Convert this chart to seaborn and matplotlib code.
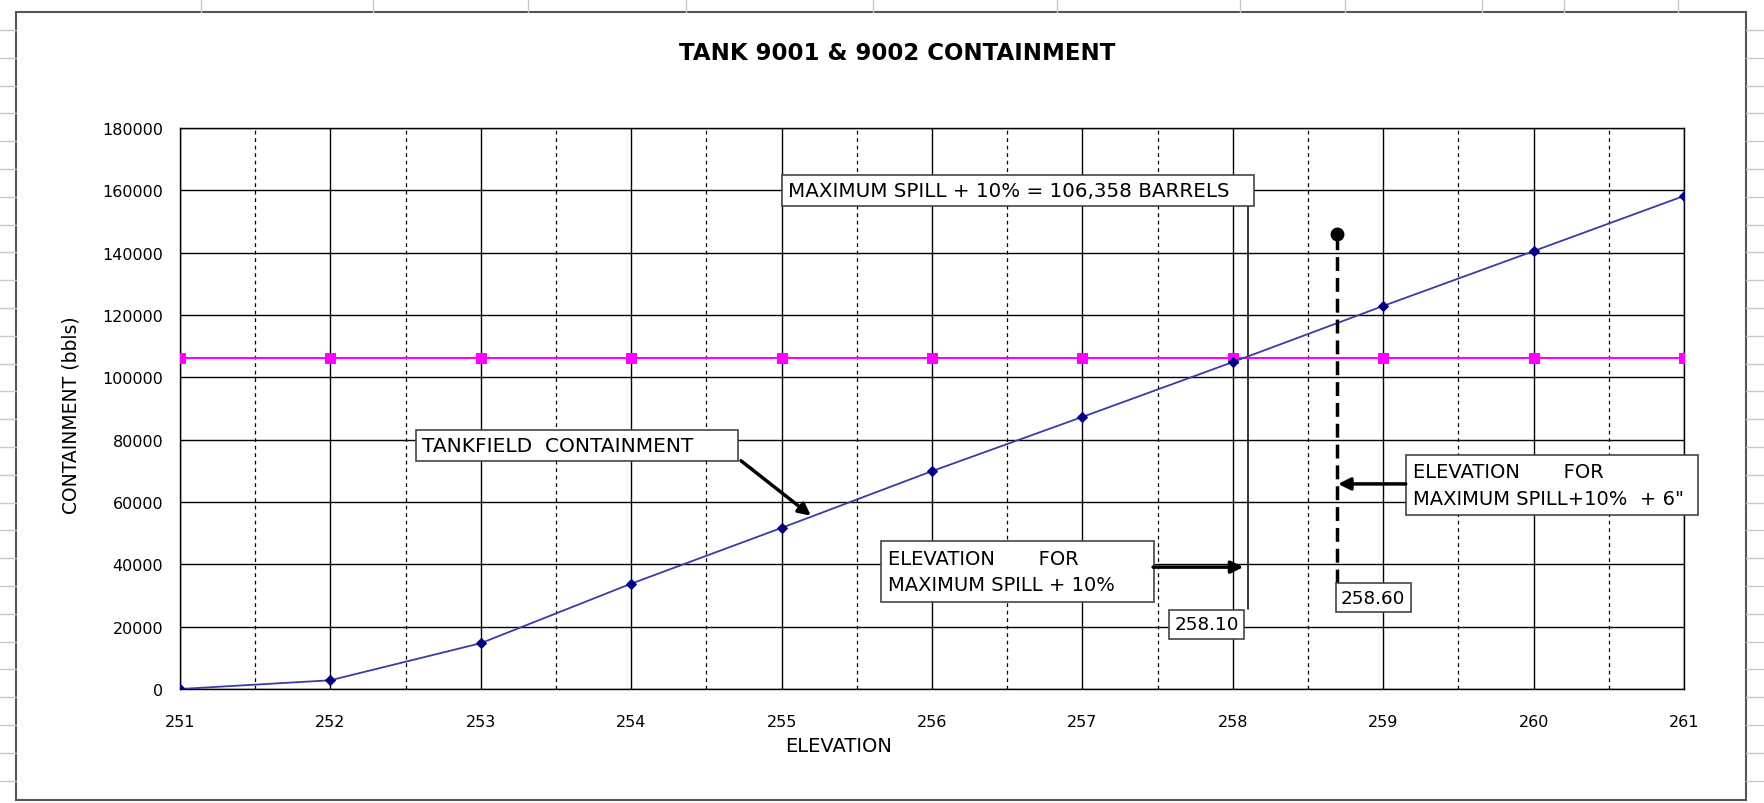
import numpy as np
import pandas as pd
import seaborn as sns
import matplotlib.pyplot as plt
from matplotlib.lines import Line2D
from matplotlib.patches import Rectangle

# values
elevation = [251, 252, 253, 254, 255, 256, 257, 258, 259, 260, 261]
containment = [0, 2800, 14700, 33800, 51700, 69900, 87300, 104900, 122900, 140500, 158200]
max_spill = 106358
spill_elev = 258.10
spill_elev_6in = 258.69      # where the dashed marker line is drawn
spill_6in_top = 146000
y_ticks = list(range(0, 180001, 20000))

sns.set_style('white')
plt.rcParams['font.family'] = ['DejaVu Sans']
plt.rcParams.update({'text.color': 'black', 'axes.labelcolor': 'black',
                     'xtick.color': 'black', 'ytick.color': 'black'})

df = pd.DataFrame({'ELEVATION': elevation, 'CONTAINMENT': containment,
                   'SPILL': [max_spill] * len(elevation)})

fig = plt.figure(figsize=(17.64, 8.04), dpi=100)
ax = fig.add_axes([180 / 1764, 1 - 690 / 804, 1504 / 1764, 561 / 804])

# spreadsheet cell lines behind the embedded chart
for y in np.arange(31, 804, 27.8):
    fig.add_artist(Line2D([0, 16 / 1764], [1 - y / 804] * 2, color='#c8c8c8', lw=1))
    fig.add_artist(Line2D([1746 / 1764, 1], [1 - y / 804] * 2, color='#c8c8c8', lw=1))
for x in [201, 373, 528, 686, 873, 1057, 1240, 1345, 1482, 1564, 1678]:
    fig.add_artist(Line2D([x / 1764] * 2, [1 - 13 / 804, 1], color='#c8c8c8', lw=1))
fig.add_artist(Rectangle((16 / 1764, 1 - 801 / 804), 1730 / 1764, 788 / 804,
                         fill=False, edgecolor='#555555', lw=1.5))

sns.lineplot(data=df, x='ELEVATION', y='SPILL', ax=ax, color='#ff00ff', lw=1.5,
             marker='s', markersize=6.5, markeredgecolor='#ff00ff', zorder=3)
sns.lineplot(data=df, x='ELEVATION', y='CONTAINMENT', ax=ax, color='#3a3aa8', lw=1.3,
             marker='D', markersize=5.5, markerfacecolor='#000080',
             markeredgecolor='#000080', zorder=4)

ax.set_xlim(251, 261)
ax.set_ylim(0, 180000)
ax.set_xticks(elevation)
ax.set_xticks(np.arange(251.5, 261, 1), minor=True)
ax.set_yticks(y_ticks)
ax.set_axisbelow(True)
ax.grid(which='major', color='black', lw=1)
ax.grid(which='minor', axis='x', color='black', lw=0.9, linestyle=(0, (3, 3)))
for s in ax.spines.values():
    s.set_color('black')
    s.set_linewidth(1)
ax.tick_params(which='major', direction='out', length=5, color='black', labelsize=11.5)
ax.tick_params(axis='x', which='major', pad=13)
ax.tick_params(axis='y', which='major', pad=7)
ax.tick_params(which='minor', length=0)

ax.set_xlabel('ELEVATION', fontsize=14)
ax.set_ylabel('CONTAINMENT (bbls)', fontsize=13.5)
ax.xaxis.set_label_coords(0.438, -0.084)
ax.yaxis.set_label_coords(-0.066, 0.49)

fig.text(0.5085, 0.933, 'TANK 9001 & 9002 CONTAINMENT', ha='center', va='center',
         fontsize=16.5, fontweight='bold')

# elevation marker lines
ax.plot([spill_elev, spill_elev], [25700, 156000], color='black', lw=1.1, zorder=2)
ax.plot([spill_elev_6in, spill_elev_6in], [34000, spill_6in_top], color='black', lw=2.5,
        linestyle=(0, (4, 2)), zorder=4)
ax.plot([spill_elev_6in], [spill_6in_top], 'o', color='black', markersize=9, zorder=5)

box = dict(boxstyle='square,pad=0.3', facecolor='white', edgecolor='#444444', lw=1.2)
box2 = dict(boxstyle='square,pad=0.38', facecolor='white', edgecolor='#444444', lw=1.2)
ax.text(255.04, 159900, 'MAXIMUM SPILL + 10% = 106,358 BARRELS   ', fontsize=14.3,
        ha='left', va='center', bbox=box, zorder=6)
ax.text(252.61, 78100, 'TANKFIELD  CONTAINMENT      ', fontsize=14.5,
        ha='left', va='center', bbox=box, zorder=6)
ax.text(255.71, 37700, 'ELEVATION       FOR\nMAXIMUM SPILL + 10%     ', fontsize=14,
        ha='left', va='center', linespacing=1.5, bbox=box2, zorder=6)
ax.text(259.20, 65440, 'ELEVATION       FOR\nMAXIMUM SPILL+10%  + 6" ', fontsize=14,
        ha='left', va='center', linespacing=1.5, bbox=box2, zorder=6)
ax.text(257.61, 20850, '258.10', fontsize=13.2, ha='left', va='center', bbox=box, zorder=6)
ax.text(258.72, 29350, '258.60', fontsize=13.2, ha='left', va='center', bbox=box, zorder=6)

arrow = dict(arrowstyle='-|>', color='black', lw=2.5, mutation_scale=18, shrinkA=0, shrinkB=0)
ax.annotate('', xy=(255.195, 55600), xytext=(254.73, 73240), arrowprops=arrow, zorder=7)
ax.annotate('', xy=(258.07, 39100), xytext=(257.47, 39100), arrowprops=arrow, zorder=7)
ax.annotate('', xy=(258.70, 65800), xytext=(259.15, 65800), arrowprops=arrow, zorder=7)

fig.savefig('out.png', dpi=100)
